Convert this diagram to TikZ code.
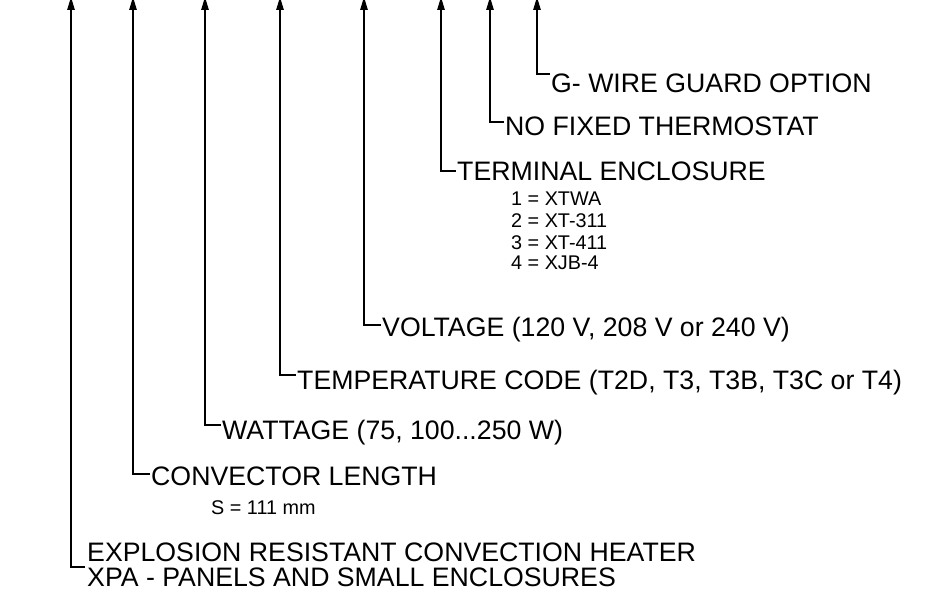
\documentclass[tikz,border=0pt]{standalone}
\usepackage{fontspec}
\setmainfont{Liberation Sans}
\usetikzlibrary{arrows.meta}
\begin{document}
\begin{tikzpicture}[x=1pt,y=-1pt,
  lbl/.style={anchor=base west,inner sep=0pt,font=\fontsize{26.7}{30}\selectfont},
  sml/.style={anchor=base west,inner sep=0pt,font=\fontsize{19.8}{22}\selectfont},
  lead/.style={line width=1.1pt,-{Triangle[length=13pt,width=7.5pt]}}]
\useasboundingbox (0,0) rectangle (938,596);
% labels
\node[lbl] (lG) at (551,92.5) {G- WIRE GUARD OPTION};
\node[lbl] (lN) at (505,135.5) {NO FIXED THERMOSTAT};
\node[lbl] (lT) at (457,180.5) {TERMINAL ENCLOSURE};
\node[sml] (s1) at (511,206) {1 = XTWA};
\node[sml] (s2) at (511,228) {2 = XT-311};
\node[sml] (s3) at (511,250) {3 = XT-411};
\node[sml] (s4) at (511,270) {4 = XJB-4};
\node[lbl] (lV) at (382,337) {VOLTAGE (120 V, 208 V or 240 V)};
\node[lbl] (lP) at (297,389.5) {TEMPERATURE CODE (T2D, T3, T3B, T3C or T4)};
\node[lbl] (lW) at (222,439.5) {WATTAGE (75, 100...250 W)};
\node[lbl] (lC) at (151,485.5) {CONVECTOR LENGTH};
\node[sml] (sS) at (211,514) {S = 111 mm};
\node[lbl] (lE) at (87,561) {EXPLOSION RESISTANT CONVECTION HEATER};
\node[lbl] (lX) at (87,586.5) {XPA - PANELS AND SMALL ENCLOSURES};
% arrow tips (slightly above the top edge, as in the cropped reference)
\coordinate (tE) at (71,-3);
\coordinate (tC) at (133,-3);
\coordinate (tW) at (205,-3);
\coordinate (tP) at (280,-3);
\coordinate (tV) at (364,-3);
\coordinate (tT) at (441,-3);
\coordinate (tN) at (490,-3);
\coordinate (tG) at (537,-3);
% elbows
\coordinate (cG) at (537,74);
\coordinate (cN) at (490,122);
\coordinate (cT) at (441,171);
\coordinate (cV) at (364,325);
\coordinate (cP) at (280,375);
\coordinate (cW) at (205,425);
\coordinate (cC) at (133,474);
\coordinate (cE) at (71,567);
% leaders
\draw[lead] ([xshift=-1pt]cG -| lG.west) -- (cG) -- (tG);
\draw[lead] ([xshift=-1pt]cN -| lN.west) -- (cN) -- (tN);
\draw[lead] ([xshift=-1pt]cT -| lT.west) -- (cT) -- (tT);
\draw[lead] ([xshift=-1pt]cV -| lV.west) -- (cV) -- (tV);
\draw[lead] ([xshift=-1pt]cP -| lP.west) -- (cP) -- (tP);
\draw[lead] ([xshift=-1pt]cW -| lW.west) -- (cW) -- (tW);
\draw[lead] ([xshift=-1pt]cC -| lC.west) -- (cC) -- (tC);
\draw[lead] ([xshift=-2pt]cE -| lE.west) -- (cE) -- (tE);
\end{tikzpicture}
\end{document}
